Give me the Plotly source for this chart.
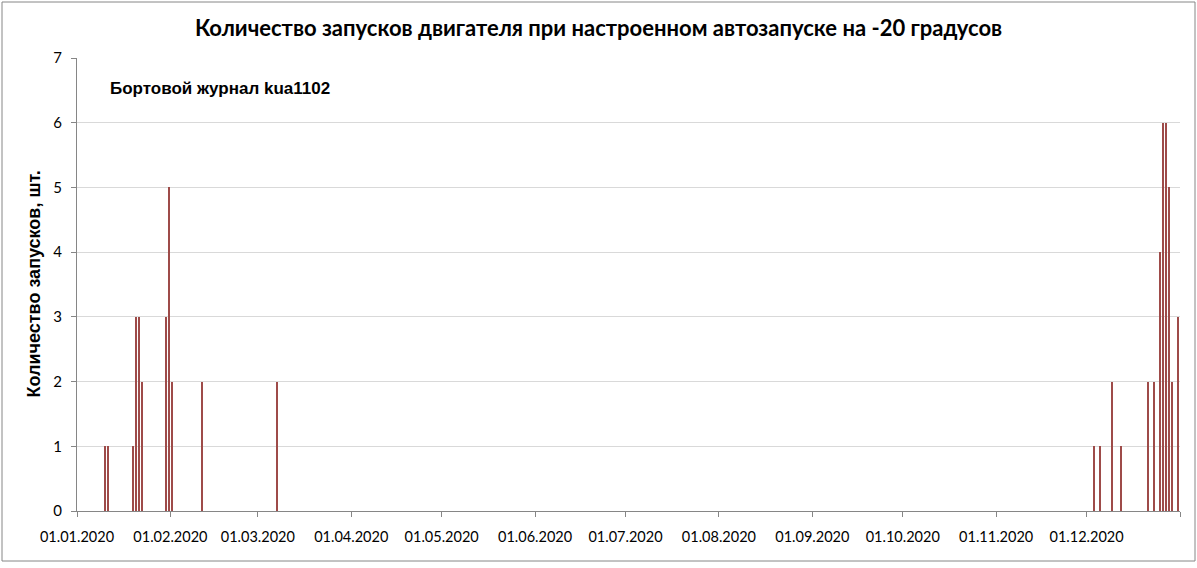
import plotly.graph_objects as go

# дни с автозапуском и число запусков в этот день
launch_dates = [
    "2020-01-10", "2020-01-11", "2020-01-19", "2020-01-20", "2020-01-21",
    "2020-01-22", "2020-01-30", "2020-01-31", "2020-02-01", "2020-02-11",
    "2020-03-07",
    "2020-12-03", "2020-12-05", "2020-12-09", "2020-12-12", "2020-12-21",
    "2020-12-23", "2020-12-25", "2020-12-26", "2020-12-27", "2020-12-28",
    "2020-12-29", "2020-12-31",
]
launch_counts = [
    1, 1, 1, 3, 3,
    2, 3, 5, 2, 2,
    2,
    1, 1, 2, 1, 2,
    2, 4, 6, 6, 5,
    2, 3,
]

month_ticks = [
    "2020-01-01", "2020-02-01", "2020-03-01", "2020-04-01", "2020-05-01",
    "2020-06-01", "2020-07-01", "2020-08-01", "2020-09-01", "2020-10-01",
    "2020-11-01", "2020-12-01", "2021-01-01",
]
month_labels = [
    "01.01.2020", "01.02.2020", "01.03.2020", "01.04.2020", "01.05.2020",
    "01.06.2020", "01.07.2020", "01.08.2020", "01.09.2020", "01.10.2020",
    "01.11.2020", "01.12.2020", "",
]

DAY_MS = 86400000

fig = go.Figure()
fig.add_trace(go.Bar(
    x=launch_dates,
    y=launch_counts,
    xperiod=DAY_MS,
    xperiodalignment="middle",
    width=DAY_MS * 0.45,
    marker=dict(color="#9E4B49", line=dict(width=0)),
    showlegend=False,
))

axis_grey = "#868686"

fig.update_layout(
    width=1197,
    height=568,
    margin=dict(l=77, r=17, t=58, b=57),
    paper_bgcolor="white",
    plot_bgcolor="white",
    font=dict(family="Lato, sans-serif", size=14, color="#000000"),
    title=dict(
        text="<b>Количество запусков двигателя при настроенном автозапуске на -20 градусов</b>",
        x=0.5, xanchor="center",
        y=1 - 28 / 568, yanchor="middle",
        font=dict(family="Lato, sans-serif", size=22, color="#000000"),
    ),
    bargap=0,
)

fig.update_xaxes(
    type="date",
    range=["2020-01-01", "2021-01-01"],
    tickmode="array",
    tickvals=month_ticks,
    ticktext=month_labels,
    showgrid=False,
    showline=True, linecolor=axis_grey, linewidth=1,
    ticks="outside", ticklen=5, tickcolor=axis_grey,
    ticklabelstandoff=8,
    tickfont=dict(size=14.5),
    zeroline=False,
)
fig.update_yaxes(
    range=[0, 7],
    dtick=1,
    showgrid=True, gridcolor="#D9D9D9", gridwidth=1,
    showline=True, linecolor=axis_grey, linewidth=1,
    ticks="outside", ticklen=5, tickcolor=axis_grey,
    ticklabelstandoff=6,
    tickfont=dict(size=15),
    zeroline=False,
)

# подписи внутри и слева от области графика
fig.add_annotation(
    text="<b>Бортовой журнал kua1102</b>",
    xref="paper", yref="paper",
    x=(108 - 77) / 1103, y=(511 - 88) / 453,
    xanchor="left", yanchor="middle",
    showarrow=False,
    font=dict(family="Liberation Sans, Arial, sans-serif", size=17, color="#000000"),
)
fig.add_annotation(
    text="<b>Количество запусков, шт.</b>",
    xref="paper", yref="paper",
    x=(33 - 77) / 1103, y=0.5,
    xanchor="center", yanchor="middle",
    textangle=-90,
    showarrow=False,
    font=dict(family="Liberation Sans, Arial, sans-serif", size=18, color="#000000"),
)

# рамка области диаграммы
fig.add_shape(
    type="rect",
    xref="paper", yref="paper",
    x0=(2 - 77) / 1103, x1=(1195 - 77) / 1103,
    y0=(511 - 561) / 453, y1=(511 - 2) / 453,
    line=dict(color=axis_grey, width=1),
    fillcolor="rgba(0,0,0,0)",
    layer="below",
)

# без отступа страницы, чтобы график встал в окно целиком
fig.write_html(
    "out.html",
    config={"displayModeBar": False},
    post_script="document.body.style.margin='0';",
)
